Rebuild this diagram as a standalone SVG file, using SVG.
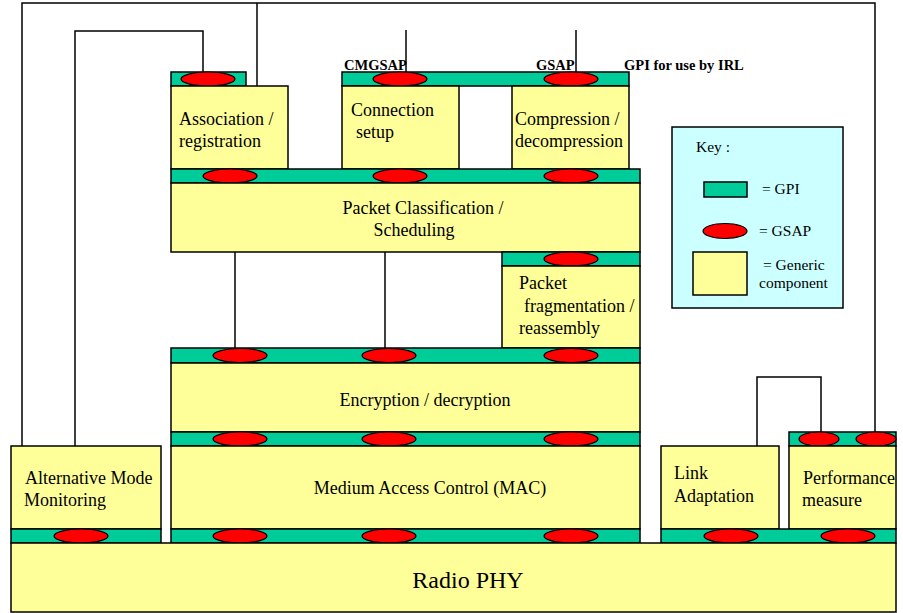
<svg xmlns="http://www.w3.org/2000/svg" width="903" height="613" viewBox="0 0 903 613" font-family="'Liberation Serif', 'Times New Roman', serif">
<style>
.box{fill:#FFFF99;stroke:#000;stroke-width:1.5}
.gpi{fill:#00CC99;stroke:#000;stroke-width:1.5}
.gsap{fill:#FF0000;stroke:#000;stroke-width:1.2}
.key{fill:#CCFFFF;stroke:#000;stroke-width:1.5}
.conn{fill:none;stroke:#000;stroke-width:1.5}
text{font-family:'Liberation Serif','Times New Roman',serif;font-size:18px;fill:#000}
.c{text-anchor:middle}
.lbl{font-size:14.5px;font-weight:bold}
.k{font-size:15.5px}
.big{font-size:24px}
</style>
<rect width="903" height="613" fill="#fff"/>
<g id="connectors">
<path class="conn" d="M22,446 V3 H875 V432"/>
<path class="conn" d="M257,3 V86"/>
<path class="conn" d="M75,446 V31 H203 V72"/>
<path class="conn" d="M406,30 V72"/>
<path class="conn" d="M576,30 V72"/>
<path class="conn" d="M235,252 V348"/>
<path class="conn" d="M385,252 V348"/>
<path class="conn" d="M757,446 V377 H821 V432"/>
</g>
<g id="association">
<rect class="gpi" x="171" y="72" width="75" height="14"/>
<ellipse class="gsap" cx="208" cy="79" rx="27" ry="7"/>
<rect class="box" x="171" y="86" width="117" height="83"/>
<text x="179" y="125">Association /</text>
<text x="179" y="147">registration</text>
</g>
<g id="top-gpi">
<rect class="gpi" x="342" y="72" width="287" height="14"/>
<ellipse class="gsap" cx="400" cy="79" rx="27" ry="7"/>
<ellipse class="gsap" cx="571" cy="79" rx="27" ry="7"/>
<text class="lbl" x="344" y="70">CMGSAP</text>
<text class="lbl" x="536" y="70">GSAP</text>
<text class="lbl" x="624" y="70">GPI for use by IRL</text>
</g>
<g id="connection-setup">
<rect class="box" x="342" y="86" width="117" height="83"/>
<text x="351" y="116">Connection</text>
<text x="356" y="138">setup</text>
</g>
<g id="compression">
<rect class="box" x="512" y="86" width="117" height="83"/>
<text x="515" y="125">Compression /</text>
<text x="515" y="147">decompression</text>
</g>
<g id="classification">
<rect class="gpi" x="171" y="169" width="469" height="14"/>
<ellipse class="gsap" cx="230" cy="176" rx="27" ry="7"/>
<ellipse class="gsap" cx="400" cy="176" rx="27" ry="7"/>
<ellipse class="gsap" cx="571" cy="176" rx="27" ry="7"/>
<rect class="box" x="171" y="183" width="469" height="69"/>
<text class="c" x="423" y="214">Packet Classification /</text>
<text class="c" x="414" y="236">Scheduling</text>
</g>
<g id="fragmentation">
<rect class="gpi" x="502" y="252" width="138" height="14"/>
<ellipse class="gsap" cx="571" cy="259" rx="27" ry="7"/>
<rect class="box" x="502" y="266" width="138" height="82"/>
<text x="519" y="289">Packet</text>
<text x="524" y="312">fragmentation /</text>
<text x="519" y="334">reassembly</text>
</g>
<g id="encryption">
<rect class="gpi" x="171" y="348" width="469" height="15"/>
<ellipse class="gsap" cx="240" cy="355.5" rx="27" ry="7"/>
<ellipse class="gsap" cx="389" cy="355.5" rx="27" ry="7"/>
<ellipse class="gsap" cx="571" cy="355.5" rx="27" ry="7"/>
<rect class="box" x="171" y="363" width="469" height="69"/>
<text class="c" x="425" y="406">Encryption / decryption</text>
</g>
<g id="mac">
<rect class="gpi" x="171" y="432" width="469" height="14"/>
<ellipse class="gsap" cx="240" cy="439" rx="27" ry="7"/>
<ellipse class="gsap" cx="389" cy="439" rx="27" ry="7"/>
<ellipse class="gsap" cx="571" cy="439" rx="27" ry="7"/>
<rect class="box" x="171" y="446" width="469" height="83"/>
<text class="c" x="430" y="494">Medium Access Control (MAC)</text>
<rect class="gpi" x="171" y="529" width="469" height="14"/>
<ellipse class="gsap" cx="240" cy="536" rx="27" ry="7"/>
<ellipse class="gsap" cx="389" cy="536" rx="27" ry="7"/>
<ellipse class="gsap" cx="571" cy="536" rx="27" ry="7"/>
</g>
<g id="alternative-mode">
<rect class="box" x="11" y="446" width="150" height="83"/>
<text x="25" y="484">Alternative Mode</text>
<text x="24" y="506">Monitoring</text>
<rect class="gpi" x="11" y="529" width="150" height="14"/>
<ellipse class="gsap" cx="81" cy="536" rx="27" ry="7"/>
</g>
<g id="link-adaptation">
<rect class="box" x="661" y="446" width="118" height="83"/>
<text x="674" y="479">Link</text>
<text x="674" y="502">Adaptation</text>
</g>
<g id="performance">
<rect class="gpi" x="789" y="432" width="107" height="14"/>
<ellipse class="gsap" cx="819" cy="439" rx="20" ry="7"/>
<ellipse class="gsap" cx="876" cy="439" rx="20" ry="7"/>
<rect class="box" x="789" y="446" width="107" height="83"/>
<text x="803" y="484">Performance</text>
<text x="802" y="506">measure</text>
</g>
<g id="right-gpi">
<rect class="gpi" x="661" y="529" width="235" height="14"/>
<ellipse class="gsap" cx="731" cy="536" rx="27" ry="7"/>
<ellipse class="gsap" cx="848" cy="536" rx="27" ry="7"/>
</g>
<g id="radio-phy">
<rect class="box" x="11" y="543" width="885" height="69"/>
<text class="c big" x="468" y="588">Radio PHY</text>
</g>
<g id="key">
<rect class="key" x="672" y="127" width="171" height="181"/>
<text class="k" x="696" y="152">Key :</text>
<rect class="gpi" x="704" y="182" width="43" height="15"/>
<text class="k" x="762" y="194">= GPI</text>
<ellipse class="gsap" cx="725" cy="231" rx="22" ry="7.5"/>
<text class="k" x="759" y="236">= GSAP</text>
<rect class="box" x="693" y="252" width="54" height="43"/>
<text class="k" x="763" y="270">= Generic</text>
<text class="k" x="759" y="288">component</text>
</g>
</svg>
